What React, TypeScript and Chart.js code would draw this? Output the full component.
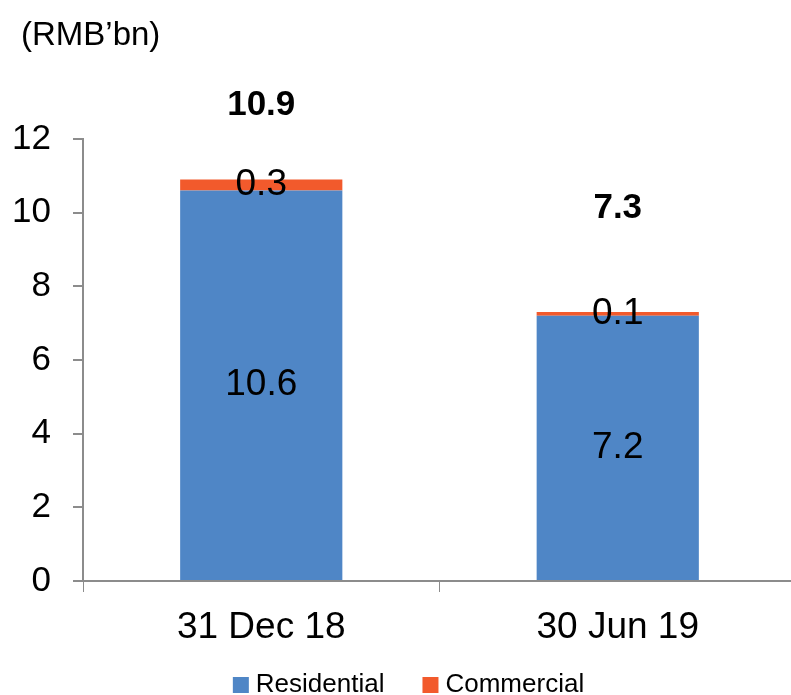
import React, { useEffect, useRef } from "react";
import { Chart, registerables } from "chart.js";

Chart.register(...registerables);

const categories = ["31 Dec 18", "30 Jun 19"];
const residential = [10.6, 7.2];
const commercial = [0.3, 0.1];
const totals = [10.9, 7.3];
const yTicks = [0, 2, 4, 6, 8, 10, 12];
const unitLabel = "(RMB\u2019bn)";

const FONT = "'Liberation Sans', Arial, sans-serif";
const BLUE = "#4F86C6";
const ORANGE = "#F25A2C";
const AXIS = "#8C8C8C";

const labelsPlugin = {
  id: "customLabels",
  afterDatasetsDraw(chart: any) {
    const ctx = chart.ctx;
    ctx.save();
    ctx.fillStyle = "#000";
    ctx.textAlign = "center";
    ctx.textBaseline = "middle";
    ctx.font = `37px ${FONT}`;
    chart.data.datasets.forEach((ds: any, di: number) => {
      const meta = chart.getDatasetMeta(di);
      meta.data.forEach((bar: any, i: number) => {
        const v = ds.data[i];
        const cy = (bar.y + bar.base) / 2;
        ctx.fillText(v.toFixed(1), bar.x, cy);
      });
    });
    // totals
    const topOffsets = [74, 104];
    const lastMeta = chart.getDatasetMeta(chart.data.datasets.length - 1);
    ctx.font = `bold 35px ${FONT}`;
    lastMeta.data.forEach((bar: any, i: number) => {
      ctx.fillText(totals[i].toFixed(1), bar.x, bar.y - topOffsets[i]);
    });
    ctx.restore();
  },
  afterDraw(chart: any) {
    const ctx = chart.ctx;
    ctx.save();
    // unit title
    ctx.fillStyle = "#000";
    ctx.textAlign = "left";
    ctx.textBaseline = "middle";
    ctx.font = `33px ${FONT}`;
    ctx.fillText(unitLabel, 21, 36);
    // legend
    ctx.font = `26px ${FONT}`;
    const box = 16;
    const gapText = 7;
    const gapItem = 38;
    const items = chart.data.datasets.map((ds: any) => ({
      label: ds.label,
      color: ds.backgroundColor,
      w: box + gapText + ctx.measureText(ds.label).width,
    }));
    const total = items.reduce((s: number, it: any) => s + it.w, 0) + gapItem * (items.length - 1);
    let x = 408.5 - total / 2;
    const cy = 685;
    items.forEach((it: any) => {
      ctx.fillStyle = it.color;
      ctx.fillRect(x, cy - box / 2, box, box);
      ctx.fillStyle = "#000";
      ctx.fillText(it.label, x + box + gapText, cy);
      x += it.w + gapItem;
    });
    ctx.restore();
  },
};

export default function App() {
  const ref = useRef<HTMLCanvasElement | null>(null);
  useEffect(() => {
    if (!ref.current) return;
    const chart = new Chart(ref.current, {
      type: "bar",
      data: {
        labels: categories,
        datasets: [
          { label: "Residential", data: residential, backgroundColor: BLUE, barPercentage: 1, categoryPercentage: 0.455 },
          { label: "Commercial", data: commercial, backgroundColor: ORANGE, barPercentage: 1, categoryPercentage: 0.455 },
        ],
      },
      options: {
        animation: false,
        responsive: false,
        maintainAspectRatio: false,
        layout: { padding: { top: 139, left: 0, right: 4, bottom: 54 } },
        plugins: { legend: { display: false }, tooltip: { enabled: false } },
        scales: {
          x: {
            stacked: true,
            grid: { display: true, drawOnChartArea: false, drawTicks: true, tickLength: 11, color: AXIS, offset: true },
            border: { display: true, color: AXIS, width: 2 },
            ticks: { color: "#000", font: { family: FONT, size: 37 }, padding: 14 },
            afterFit: (s: any) => { s.height = 60; },
          },
          y: {
            stacked: true,
            min: 0,
            max: 12,
            grid: { display: true, drawOnChartArea: false, drawTicks: true, tickLength: 10, color: AXIS, lineWidth: 2 },
            border: { display: true, color: AXIS, width: 2 },
            afterBuildTicks: (s: any) => { s.ticks = yTicks.map((v) => ({ value: v })); },
            ticks: { color: "#000", font: { family: FONT, size: 35 }, padding: 22 },
            afterFit: (s: any) => { s.width = 83; },
          },
        },
      },
      plugins: [labelsPlugin],
    });
    return () => chart.destroy();
  }, []);
  return (
    <div style={{ position: "fixed", left: 0, top: 0, width: 791, height: 695, overflow: "hidden", background: "#fff" }}>
      <canvas ref={ref} width={800} height={695} style={{ width: 800, height: 695, display: "block" }} />
    </div>
  );
}
